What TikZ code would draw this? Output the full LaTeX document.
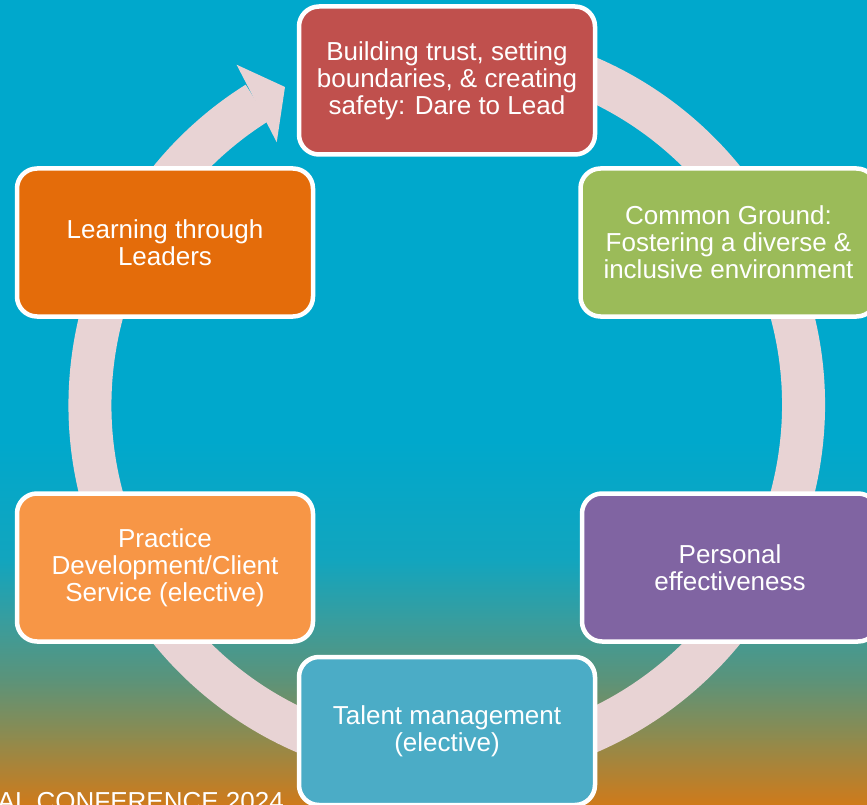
\documentclass[tikz,border=0pt]{standalone}
\usepackage{fontspec}
\setmainfont{Liberation Sans}
\usetikzlibrary{calc}
\definecolor{bgA}{HTML}{00A8CC}
\definecolor{bgB}{HTML}{12A5BE}
\definecolor{bgC}{HTML}{389D9E}
\definecolor{bgD}{HTML}{5C9379}
\definecolor{bgE}{HTML}{918A4C}
\definecolor{bgF}{HTML}{D07A1A}
\definecolor{ringc}{HTML}{E8D3D4}
\definecolor{cred}{HTML}{C0504D}
\definecolor{cgreen}{HTML}{9BBB59}
\definecolor{cpurple}{HTML}{8064A2}
\definecolor{cteal}{HTML}{4BACC6}
\definecolor{corange}{HTML}{F79646}
\definecolor{cdkorange}{HTML}{E46C0A}
\begin{document}
\begin{tikzpicture}[x=1pt,y=1pt,
  box/.style={draw=white, line width=4.5pt, rounded corners=20pt,
    minimum width=296pt, minimum height=148pt, inner sep=0pt,
    text=white, align=center, font=\fontsize{26}{27}\selectfont},
  ringline/.style={draw=ringc, line width=43pt}]
\useasboundingbox (0,0) rectangle (867,-805);
\clip (0,0) rectangle (867,-805);
% background gradient
\fill[bgA] (0,1) rectangle (867,-441);
\shade[top color=bgA, bottom color=bgB] (0,-440) rectangle (867,-561);
\shade[top color=bgB, bottom color=bgC] (0,-560) rectangle (867,-621);
\shade[top color=bgC, bottom color=bgD] (0,-620) rectangle (867,-681);
\shade[top color=bgD, bottom color=bgE] (0,-680) rectangle (867,-741);
\shade[top color=bgE, bottom color=bgF] (0,-740) rectangle (867,-806);
% footer text
\node[anchor=base east, inner sep=0pt, text=white, font=\fontsize{26}{27}\selectfont] (conf) at (284,-810.5) {AL CONFERENCE 2024};
% ring
\coordinate (C) at (446.75,-405);
\draw[ringline] ($(C)+(80:356.75)$) arc[start angle=80, end angle=-237.9, radius=356.75];
\fill[ringc] ($(C)+(121.7:400)$) -- ($(C)+(116.96:356.8)$) -- ($(C)+(122.9:313)$) -- cycle;
% boxes
\node[box, fill=cred] (n1) at (447,-80.5) {Building trust, setting\\boundaries, \& creating\\safety: Dare to Lead};
\node[box, fill=cgreen] (n2) at (728.5,-242.5) {Common Ground:\\Fostering a diverse \&\\inclusive environment};
\node[box, fill=cpurple] (n3) at (730,-567.5) {Personal\\effectiveness};
\node[box, fill=cteal] (n4) at (447,-731) {Talent management\\(elective)};
\node[box, fill=corange] (n5) at (165,-567.5) {Practice\\Development/Client\\Service (elective)};
\node[box, fill=cdkorange] (n6) at (165,-242.5) {Learning through\\Leaders};
\end{tikzpicture}
\end{document}
